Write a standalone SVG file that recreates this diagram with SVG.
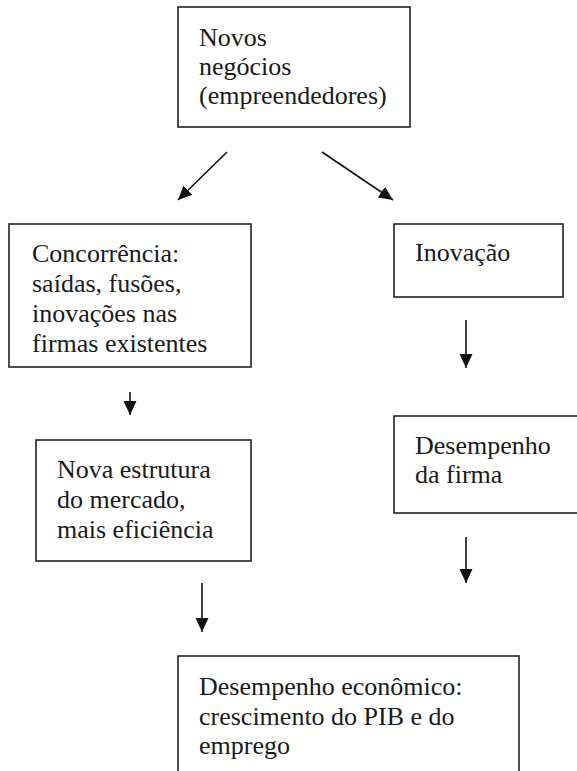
<svg xmlns="http://www.w3.org/2000/svg" width="577" height="771" viewBox="0 0 577 771">
<style>
.box{fill:#fff;stroke:#222;stroke-width:1.6}
.t{font-family:"Liberation Serif","Times New Roman",serif;font-size:26px;fill:#1a1a1a}
.c{stroke:#111;stroke-width:1.6;fill:none}
</style>
<defs>
<marker id="ah" viewBox="0 0 14 14" refX="14" refY="7" markerWidth="14" markerHeight="14" markerUnits="userSpaceOnUse" orient="auto">
<path d="M0,0.5 L14,7 L0,13.5 Z" fill="#111"/>
</marker>
</defs>
<rect width="577" height="771" fill="#fff"/>
<g id="n1"><rect class="box" x="178" y="7" width="232" height="120"/>
<text class="t"><tspan x="199" y="46">Novos</tspan><tspan x="199" y="75">negócios</tspan><tspan x="199" y="104">(empreendedores)</tspan></text></g>
<g id="n2"><rect class="box" x="9" y="224" width="242" height="143"/>
<text class="t"><tspan x="32" y="262">Concorrência:</tspan><tspan x="32" y="292">saídas, fusões,</tspan><tspan x="32" y="322">inovações nas</tspan><tspan x="32" y="352">firmas existentes</tspan></text></g>
<g id="n3"><rect class="box" x="394" y="224" width="169" height="73"/>
<text class="t"><tspan x="415" y="261">Inovação</tspan></text></g>
<g id="n4"><rect class="box" x="36" y="440" width="215" height="121"/>
<text class="t"><tspan x="57" y="478">Nova estrutura</tspan><tspan x="57" y="508">do mercado,</tspan><tspan x="57" y="538">mais eficiência</tspan></text></g>
<g id="n5"><rect class="box" x="394" y="416" width="200" height="97"/>
<text class="t"><tspan x="415" y="454">Desempenho</tspan><tspan x="415" y="483">da firma</tspan></text></g>
<g id="n6"><rect class="box" x="178" y="656" width="341" height="130"/>
<text class="t"><tspan x="199" y="695">Desempenho econômico:</tspan><tspan x="199" y="725">crescimento do PIB e do</tspan><tspan x="199" y="754">emprego</tspan></text></g>
<g id="connectors">
<line class="c" x1="227" y1="152" x2="178" y2="200" marker-end="url(#ah)"/>
<line class="c" x1="322" y1="152" x2="393" y2="200" marker-end="url(#ah)"/>
<line class="c" x1="466" y1="320" x2="466" y2="368" marker-end="url(#ah)"/>
<line class="c" x1="130" y1="392" x2="130" y2="415" marker-end="url(#ah)"/>
<line class="c" x1="466" y1="537" x2="466" y2="583" marker-end="url(#ah)"/>
<line class="c" x1="202" y1="583" x2="202" y2="632" marker-end="url(#ah)"/>
</g>
</svg>
